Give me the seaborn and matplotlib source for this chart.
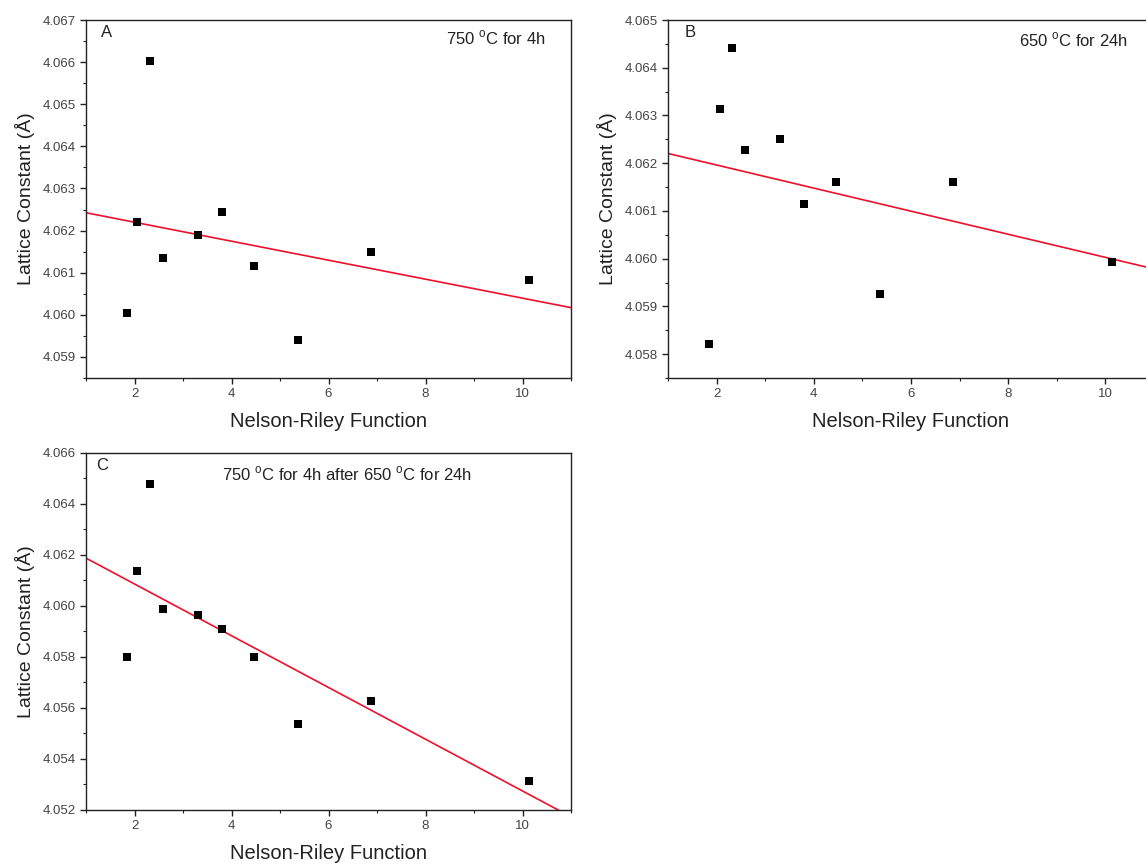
import numpy as np
import pandas as pd
import matplotlib
matplotlib.use("Agg")
import matplotlib.pyplot as plt
from matplotlib.ticker import MultipleLocator, FormatStrFormatter
import seaborn as sns

# ---- data ----
nelson_riley = [1.84, 2.06, 2.31, 2.59, 3.31, 3.80, 4.46, 5.37, 6.87, 10.13]
lattice_a = [4.06004, 4.06220, 4.06602, 4.06135, 4.06190, 4.06245, 4.06116, 4.05941, 4.06150, 4.06083]
lattice_b = [4.05821, 4.06314, 4.06441, 4.06228, 4.06251, 4.06115, 4.06160, 4.05927, 4.06161, 4.05994]
lattice_c = [4.05800, 4.06137, 4.06478, 4.05987, 4.05966, 4.05910, 4.05800, 4.05536, 4.05627, 4.05315]

panel_letters = ["A", "B", "C"]
panel_titles = ["750 $^{\\mathrm{o}}$C for 4h",
                "650 $^{\\mathrm{o}}$C for 24h",
                "750 $^{\\mathrm{o}}$C for 4h after 650 $^{\\mathrm{o}}$C for 24h"]
y_limits = [(4.0585, 4.067), (4.0575, 4.065), (4.052, 4.066)]
y_major = [0.001, 0.001, 0.002]
x_label = "Nelson-Riley Function"
y_label = "Lattice Constant (Å)"

sns.set_theme(style="ticks")
plt.rcParams["font.family"] = ["Liberation Sans", "DejaVu Sans"]
plt.rcParams["mathtext.fontset"] = "custom"
plt.rcParams["mathtext.rm"] = "Liberation Sans"

W, H = 1146, 867
fig = plt.figure(figsize=(W / 100, H / 100), dpi=100)

def px_axes(left, right, top, bottom):
    return fig.add_axes([left / W, 1 - bottom / H, (right - left) / W, (bottom - top) / H])

axes = [px_axes(86, 571, 20, 378), px_axes(668, 1154, 20, 378), px_axes(86, 571, 453, 810)]
series = [lattice_a, lattice_b, lattice_c]

letter_pos = [(0.031, 0.964), (0.035, 0.964), (0.021, 0.966)]
title_pos = [(0.948, 0.95, "right"), (0.946, 0.944, "right"), (0.280, 0.941, "left")]

for i, ax in enumerate(axes):
    df = pd.DataFrame({"x": nelson_riley, "y": series[i]})
    ax.set_xlim(1, 11)
    ax.set_ylim(*y_limits[i])
    sns.regplot(data=df, x="x", y="y", ax=ax, scatter=False, ci=None, truncate=False,
                line_kws=dict(color="#f0102a", lw=1.2))
    sns.scatterplot(data=df, x="x", y="y", ax=ax, marker="s", s=34, color="black",
                    edgecolor="black", linewidth=0, zorder=3)
    ax.set_xlim(1, 11)
    ax.set_ylim(*y_limits[i])
    ax.xaxis.set_major_locator(MultipleLocator(2))
    ax.xaxis.set_minor_locator(MultipleLocator(1))
    ax.yaxis.set_major_locator(MultipleLocator(y_major[i]))
    ax.yaxis.set_minor_locator(MultipleLocator(y_major[i] / 2))
    ax.yaxis.set_major_formatter(FormatStrFormatter("%.3f"))
    ax.tick_params(axis="both", which="major", direction="out", length=4, width=1,
                   labelsize=9.5, colors="#222222", labelcolor="#444444", pad=3)
    ax.tick_params(axis="both", which="minor", direction="out", length=2.5, width=0.8,
                   colors="#222222")
    for sp in ax.spines.values():
        sp.set_visible(True)
        sp.set_color("#222222")
        sp.set_linewidth(1.0)
    ax.set_xlabel(x_label, fontsize=14.5, color="#222222", labelpad=9)
    ax.set_ylabel(y_label, fontsize=14, color="#222222", labelpad=6)
    lx, ly = letter_pos[i]
    ax.text(lx, ly, panel_letters[i], transform=ax.transAxes, fontsize=12,
            ha="left", va="center", color="#222222")
    tx, ty, ha = title_pos[i]
    ax.text(tx, ty, panel_titles[i], transform=ax.transAxes, fontsize=12,
            ha=ha, va="center", color="#222222")

fig.savefig("out.png", dpi=100, facecolor="white")
